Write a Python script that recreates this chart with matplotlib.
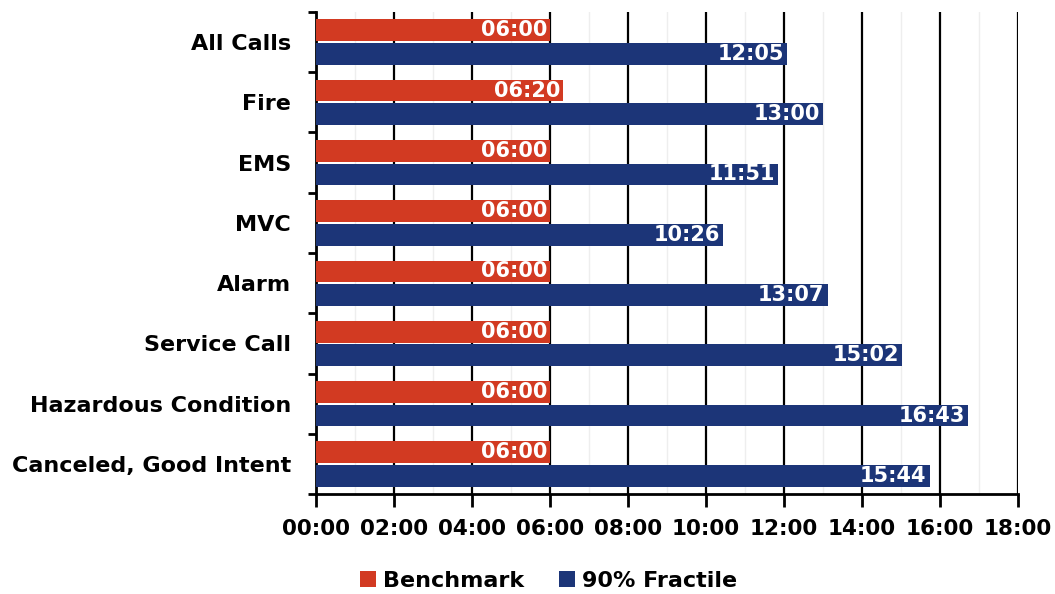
import numpy as np
import matplotlib.pyplot as plt
from matplotlib.ticker import MultipleLocator, FuncFormatter

# call types, top to bottom
categories = ["All Calls", "Fire", "EMS", "MVC", "Alarm", "Service Call",
              "Hazardous Condition", "Canceled, Good Intent"]
benchmark_labels = ["06:00", "06:20", "06:00", "06:00", "06:00", "06:00", "06:00", "06:00"]
fractile_labels = ["12:05", "13:00", "11:51", "10:26", "13:07", "15:02", "16:43", "15:44"]


def to_minutes(s):
    m, sec = s.split(":")
    return int(m) + int(sec) / 60


benchmark = [to_minutes(s) for s in benchmark_labels]
fractile = [to_minutes(s) for s in fractile_labels]

red = "#d23a22"
blue = "#1c3578"

plt.rcParams['font.family'] = ['DejaVu Sans']
plt.rcParams['font.weight'] = 'bold'

fig = plt.figure(figsize=(10.55, 5.94), dpi=100)
ax = fig.add_axes([0.2995, 0.168, 0.6655, 0.812])

y = np.arange(len(categories))
h = 0.36
off = 0.195

ax.barh(y - off, benchmark, height=h, color=red, label="Benchmark", zorder=3)
ax.barh(y + off, fractile, height=h, color=blue, label="90% Fractile", zorder=3)

for yi, v, s in zip(y, benchmark, benchmark_labels):
    ax.text(v - 0.08, yi - off, s, color="white", ha="right", va="center",
            fontsize=15, fontweight="bold", zorder=4)
for yi, v, s in zip(y, fractile, fractile_labels):
    ax.text(v - 0.08, yi + off, s, color="white", ha="right", va="center",
            fontsize=15, fontweight="bold", zorder=4)

ax.set_xlim(0, 18)
ax.set_ylim(len(categories) - 0.5, -0.5)

ax.xaxis.set_major_locator(MultipleLocator(2))
ax.xaxis.set_minor_locator(MultipleLocator(1))
ax.xaxis.set_major_formatter(FuncFormatter(lambda x, p: "%02d:00" % int(round(x))))
ax.grid(axis="x", which="major", color="black", linewidth=1.6, zorder=1)
ax.grid(axis="x", which="minor", color="#eeeeee", linewidth=1.0, zorder=0)

ax.set_yticks(y)
ax.set_yticklabels(categories, fontsize=16, fontweight="bold")
ax.set_yticks(np.arange(len(categories) + 1) - 0.5, minor=True)
ax.tick_params(axis="y", which="major", length=0, pad=18)
ax.tick_params(axis="y", which="minor", length=6, width=2, direction="out")
ax.tick_params(axis="x", which="major", length=9, width=2, direction="out",
              labelsize=15.5, pad=9)
ax.tick_params(axis="x", which="minor", length=0)

for side in ["top", "right"]:
    ax.spines[side].set_visible(False)
for side in ["left", "bottom"]:
    ax.spines[side].set_linewidth(2)

fig.legend(loc="center", bbox_to_anchor=(0.52, 0.022), ncol=2, frameon=False,
           fontsize=16, handlelength=0.7, handleheight=0.7, handletextpad=0.3,
           columnspacing=1.6)

fig.savefig("out.png", dpi=100)
